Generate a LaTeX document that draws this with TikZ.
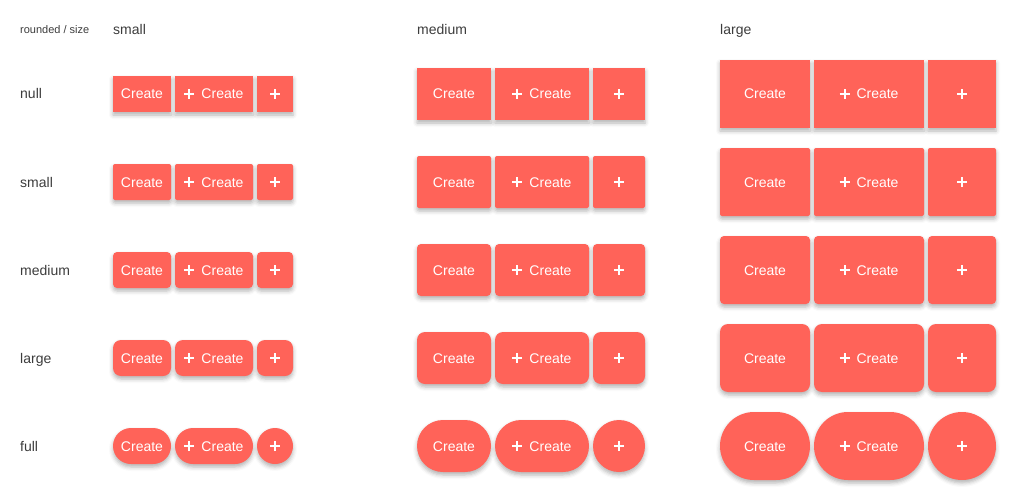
\documentclass[tikz,border=0pt]{standalone}
\usepackage{fontspec}
\setmainfont{Liberation Sans}
\usepackage{tikz}
\usetikzlibrary{positioning}
\usetikzlibrary{shadows.blur}
\definecolor{btnred}{RGB}{255,99,89}
\definecolor{lblgrey}{RGB}{60,60,60}
\tikzset{btn/.style={fill=btnred, text=white, inner sep=0pt, outer sep=0pt,
      text height=10pt, text depth=0pt, font=\fontsize{14}{16}\selectfont,
      blur shadow={shadow xshift=0pt, shadow yshift=-3pt, shadow blur radius=4pt, shadow opacity=30}},
  lbl/.style={text=lblgrey, inner sep=0pt, anchor=west, text height=10pt, text depth=0pt,
      font=\fontsize{14}{16}\selectfont}}
\newcommand{\plusicon}{\makebox[10pt][l]{\rule[4pt]{10pt}{2pt}\hspace{-6pt}\rule{2pt}{10pt}}}

\begin{document}
\begin{tikzpicture}[x=1pt, y=-1pt, node distance=4pt]
		\useasboundingbox (0,0) rectangle (1024,500);
		% headers
		\node[lbl, text height=8pt, font=\fontsize{11}{13}\selectfont] (corner) at (20,30) {rounded / size};
		\node[lbl] (head-small) at (113,30) {small};
		\node[lbl] (head-medium) at (417,30) {medium};
		\node[lbl] (head-large) at (720,30) {large};
		% rows of buttons
		\foreach \r/\rad [count=\i] in {null/0, small/2, medium/4, large/8, full/-1} {
			\pgfmathsetmacro\yy{94+88*(\i-1)}
			\node[lbl] (row-\r) at (20,\yy) {\r};
			\foreach \c/\h/\x in {small/36/113, medium/52/417, large/68/720} {
				\pgfmathsetmacro\rr{\rad<0 ? \h/2 : \rad}
				\node[btn, anchor=west, minimum height=\h pt, minimum width=\h pt+22pt, rounded corners=\rr pt]
					(\r-\c-create) at (\x,\yy) {Create};
				\node[btn, minimum height=\h pt, minimum width=\h pt+42pt, rounded corners=\rr pt,
					right=of \r-\c-create] (\r-\c-pluscreate) {\plusicon\hspace{7pt}Create};
				\node[btn, minimum height=\h pt, minimum width=\h pt, rounded corners=\rr pt,
					right=of \r-\c-pluscreate] (\r-\c-plus) {\plusicon};
			}
		}
		\end{tikzpicture}
\end{document}
